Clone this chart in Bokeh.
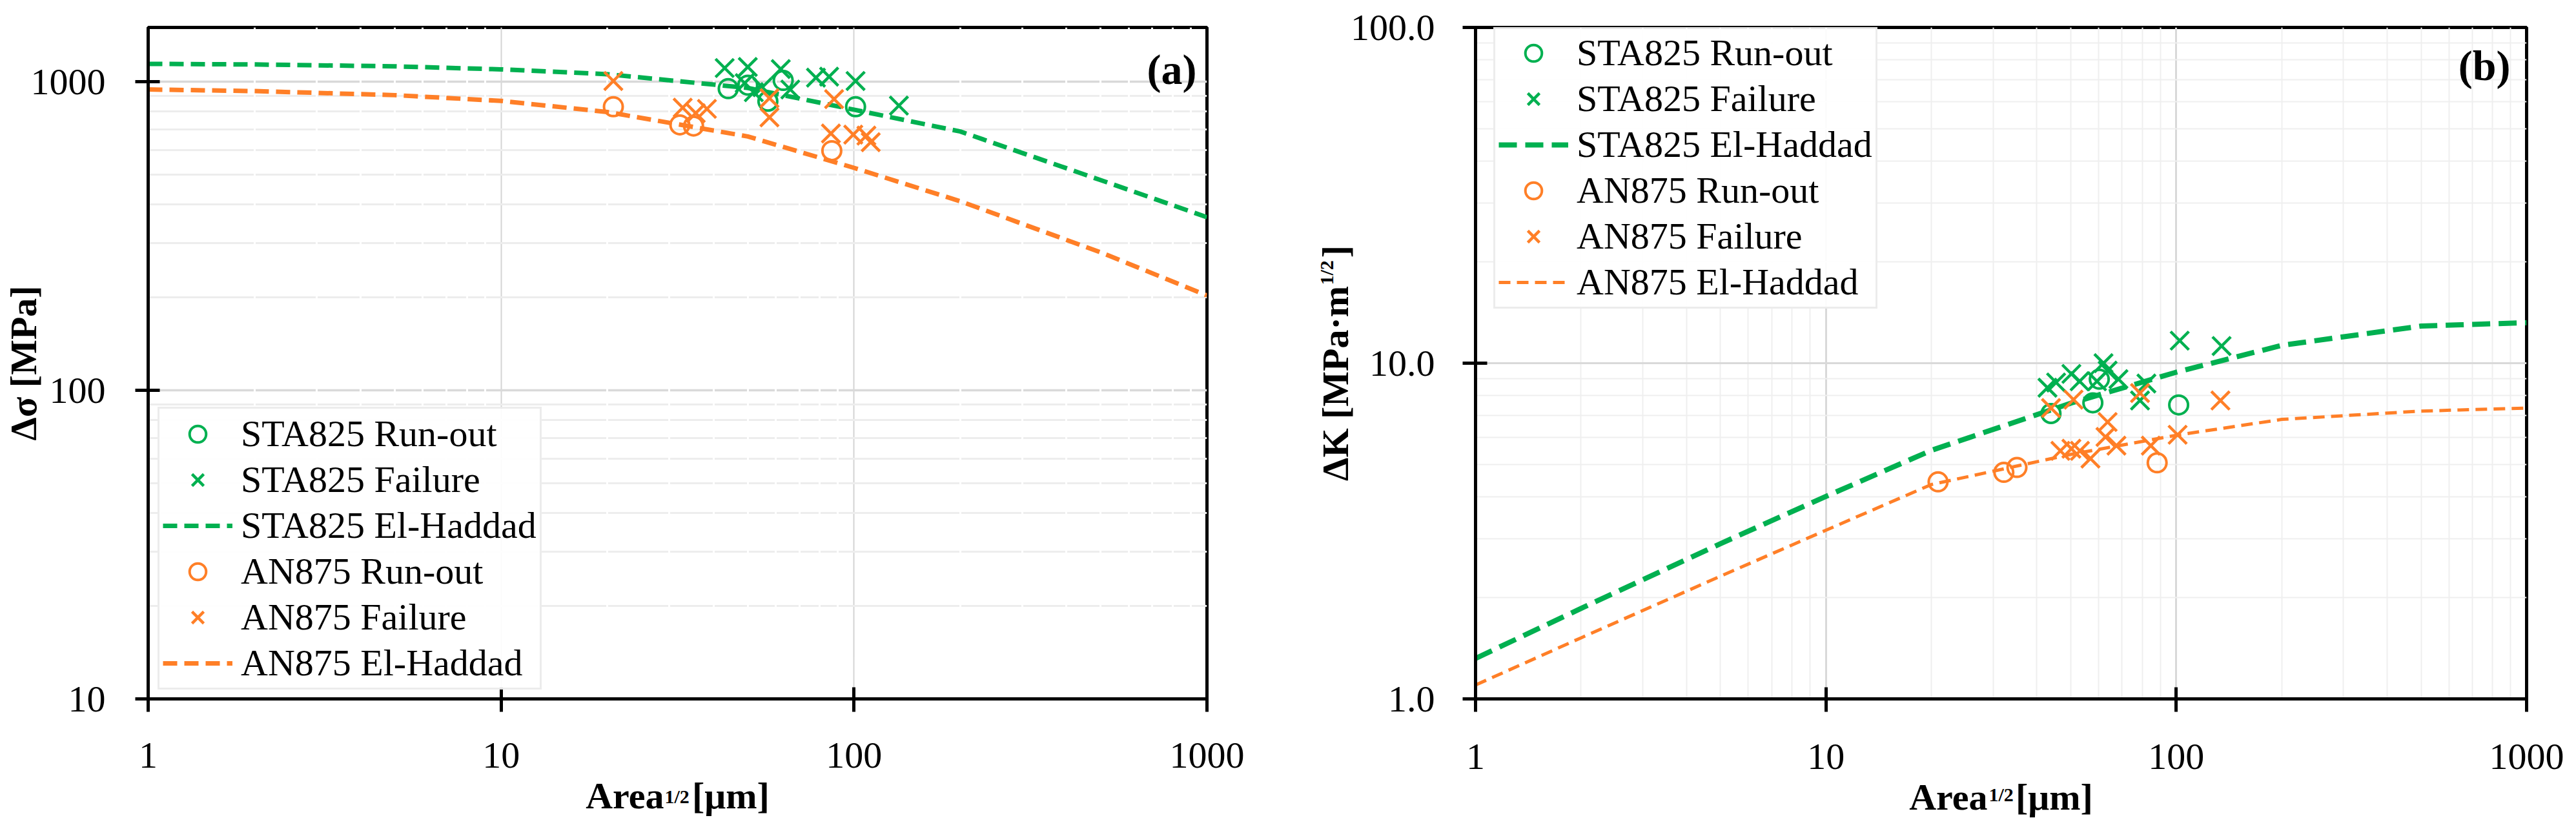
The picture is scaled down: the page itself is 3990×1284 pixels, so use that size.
from math import pi
from bokeh.plotting import figure
from bokeh.models import FixedTicker, Legend, LegendItem, Label, Grid
from bokeh.layouts import row
from bokeh.embed import file_html
from bokeh.resources import INLINE

FONT = "Liberation Serif"
GREEN = "#00B050"
ORANGE = "#FF7F27"
NB = "\u00a0"

# ---------------- data: panel (a) stress range ----------------
a_sta_run_x = [44, 50, 57, 63, 101]
a_sta_run_y = [950, 975, 865, 1010, 830]
a_sta_fail_x = [43, 50, 62, 49, 55, 52, 66, 78, 85, 101, 134]
a_sta_fail_y = [1108, 1117, 1099, 990, 960, 925, 944, 1031, 1039, 1006, 837]
a_an_run_x = [20.8, 32.1, 35.1, 86.5]
a_an_run_y = [830, 725, 719, 598]
a_an_fail_x = [20.8, 32.7, 35.6, 38.3, 57.6, 57.6, 87.8, 86, 99.5, 108.4, 111.5]
a_an_fail_y = [1006, 824, 791, 817, 885, 767, 879, 680, 674, 669, 637]

eh_x = [1, 2, 5, 10, 20, 50, 100, 200, 500, 1000]
a_sta_eh_y = [1143, 1138, 1122, 1097, 1058, 955, 812, 690, 480, 364]
a_an_eh_y = [944, 933, 905, 867, 798, 665, 526, 410, 280, 203]

# ---------------- data: panel (b) SIF range ----------------
b_sta_run_x = [43.9, 57.8, 60.3, 101.6]
b_sta_run_y = [7.08, 7.62, 8.96, 7.51]
b_sta_fail_x = [42.9, 45.4, 50.2, 53.0, 59.4, 62.0, 63.7, 68.4, 78.8, 82.2, 102.3, 134.7]
b_sta_fail_y = [8.45, 8.76, 9.29, 8.83, 8.83, 10.0, 9.5, 8.96, 7.74, 8.70, 11.67, 11.25]
b_an_run_x = [20.9, 32.2, 35.1, 88.2]
b_an_run_y = [4.43, 4.73, 4.89, 5.05]
b_an_fail_x = [43.9, 50.9, 78.8, 133.7, 46.7, 50.2, 53.1, 56.9, 62.8, 63.7, 67.5, 84.6, 100.9]
b_an_fail_y = [7.35, 7.79, 8.15, 7.74, 5.48, 5.56, 5.48, 5.20, 6.03, 6.68, 5.68, 5.68, 6.12]

b_sta_eh_y = [1.32, 1.86, 2.9, 4.01, 5.5, 7.6, 9.4, 11.3, 12.9, 13.2]
b_an_eh_y = [1.10, 1.52, 2.32, 3.18, 4.35, 5.35, 6.1, 6.8, 7.2, 7.35]

x_ticks = [1, 10, 100, 1000]
x_tick_labels = {1: "1", 10: "10", 100: "100", 1000: "1000"}
x_minor = [m * d for d in (1, 10, 100) for m in range(2, 10)]
a_y_ticks = [10, 100, 1000]
a_y_tick_labels = {10: "10", 100: "100", 1000: "1000"}
a_y_minor = [m * d for d in (10, 100) for m in range(2, 10)]
b_y_ticks = [1, 10, 100]
b_y_tick_labels = {1: "1.0", 10: "10.0", 100: "100.0"}
b_y_minor = [m * d for d in (1, 10) for m in range(2, 10)]

labels = ["STA825 Run-out", "STA825 Failure", "STA825 El-Haddad",
          "AN875 Run-out", "AN875 Failure", "AN875 El-Haddad"]


def style_axes(p, xstand, ystand, xlabstand, ylabstand):
    for ax in (p.xaxis[0], p.yaxis[0]):
        ax.axis_line_color = "black"
        ax.axis_line_width = 5
        ax.major_tick_line_color = "black"
        ax.major_tick_line_width = 5
        ax.major_tick_in = 18
        ax.major_tick_out = 20
        ax.minor_tick_line_color = None
        ax.major_label_text_font = FONT
        ax.major_label_text_font_size = "58px"
        ax.major_label_text_color = "black"
        ax.axis_label_text_font = FONT
        ax.axis_label_text_font_size = "58px"
        ax.axis_label_text_font_style = "bold"
        ax.axis_label_text_color = "black"
    p.xaxis[0].major_label_standoff = xstand
    p.yaxis[0].major_label_standoff = ystand
    p.xaxis[0].axis_label_standoff = xlabstand
    p.yaxis[0].axis_label_standoff = ylabstand
    p.outline_line_color = "black"
    p.outline_line_width = 5
    p.outline_line_alpha = 1


def add_series(p, xs_list, ys_list, eh_sta, eh_an, lw_sta, lw_an, dash_sta, dash_an):
    (sr_x, sf_x, ar_x, af_x) = xs_list
    (sr_y, sf_y, ar_y, af_y) = ys_list
    r1 = p.scatter(sr_x, sr_y, marker="circle", size=29, fill_color=None,
                   line_color=GREEN, line_width=4)
    r2 = p.scatter(sf_x, sf_y, marker="x", size=40, line_color=GREEN, line_width=4.5)
    r3 = p.line(eh_x, eh_sta, line_color=GREEN, line_width=lw_sta, line_dash=dash_sta)
    r4 = p.scatter(ar_x, ar_y, marker="circle", size=29, fill_color=None,
                   line_color=ORANGE, line_width=4)
    r5 = p.scatter(af_x, af_y, marker="x", size=40, line_color=ORANGE, line_width=4.5)
    r6 = p.line(eh_x, eh_an, line_color=ORANGE, line_width=lw_an, line_dash=dash_an)
    return [r1, r2, r3, r4, r5, r6]


def make_legend(rs, loc):
    return Legend(items=[LegendItem(label=l, renderers=[r]) for l, r in zip(labels, rs)],
                  location=loc, margin=0, padding=5, spacing=4,
                  glyph_width=108, glyph_height=64, label_height=64, label_standoff=13,
                  label_text_font=FONT, label_text_font_size="58px",
                  label_text_color="black",
                  border_line_color="#D9D9D9", border_line_width=3,
                  background_fill_color="white", background_fill_alpha=0.9)


def lab(x, y, text, size="58px", bold=True, align="left", baseline="alphabetic", angle=0):
    return Label(x=x, y=y, x_units="screen", y_units="screen", text=text,
                 text_font=FONT, text_font_size=size,
                 text_font_style="bold" if bold else "normal",
                 text_align=align, text_baseline=baseline, angle=angle,
                 text_color="black")


# ---------------- panel (a) ----------------
p1 = figure(width=2008, height=1284, x_axis_type="log", y_axis_type="log",
            x_range=(1, 1000), y_range=(10, 1500),
            output_backend="svg", toolbar_location=None,
            min_border_left=227, min_border_right=139, min_border_top=39, min_border_bottom=202)
p1.xaxis.ticker = FixedTicker(ticks=x_ticks, minor_ticks=x_minor)
p1.yaxis.ticker = FixedTicker(ticks=a_y_ticks, minor_ticks=a_y_minor)
p1.xaxis.major_label_overrides = x_tick_labels
p1.yaxis.major_label_overrides = a_y_tick_labels
p1.xaxis.axis_label = "Area" + NB * 3 + "[μm]"
p1.yaxis.axis_label = "Δσ [MPa]"
style_axes(p1, 48, 46, 8, -24)
p1.xgrid.grid_line_color = "#D4D4D4"
p1.xgrid.grid_line_width = 2
p1.ygrid.grid_line_color = "#D9D9D9"
p1.ygrid.grid_line_width = 3.5
p1.ygrid.minor_grid_line_color = "#EDEDED"
p1.ygrid.minor_grid_line_width = 3
p1.add_layout(Grid(dimension=0, ticker=FixedTicker(ticks=[], minor_ticks=x_minor),
                   grid_line_color=None, minor_grid_line_color="white",
                   minor_grid_line_width=3), "center")

rs1 = add_series(p1, (a_sta_run_x, a_sta_fail_x, a_an_run_x, a_an_fail_x),
                 (a_sta_run_y, a_sta_fail_y, a_an_run_y, a_an_fail_y),
                 a_sta_eh_y, a_an_eh_y, 7, 7, "22 11", "22 11")
p1.add_layout(make_legend(rs1, (15, 14)))
p1.add_layout(lab(1642 - 18, 1043 - 68, "(a)", size="66px", align="right", baseline="middle"))
# superscript of the x-axis title, placed in the right side panel (not clipped)
p1.add_layout(lab(-840, -151, "1/2", size="30px"), "right")

# ---------------- panel (b) ----------------
p2 = figure(width=1982, height=1284, x_axis_type="log", y_axis_type="log",
            x_range=(1, 1000), y_range=(1, 100),
            output_backend="svg", toolbar_location=None,
            min_border_left=277, min_border_right=77, min_border_top=42, min_border_bottom=195)
p2.xaxis.ticker = FixedTicker(ticks=x_ticks, minor_ticks=x_minor)
p2.yaxis.ticker = FixedTicker(ticks=b_y_ticks, minor_ticks=b_y_minor)
p2.xaxis.major_label_overrides = x_tick_labels
p2.yaxis.major_label_overrides = b_y_tick_labels
p2.xaxis.axis_label = "Area" + NB * 3 + "[μm]"
p2.yaxis.axis_label = "ΔK [MPa·m" + NB * 3 + "]"
style_axes(p2, 50, 43, 8, -12)
for g in (p2.xgrid[0], p2.ygrid[0]):
    g.grid_line_color = "#D9D9D9"
    g.grid_line_width = 3
    g.minor_grid_line_color = "#EFEFEF"
    g.minor_grid_line_width = 2

rs2 = add_series(p2, (b_sta_run_x, b_sta_fail_x, b_an_run_x, b_an_fail_x),
                 (b_sta_run_y, b_sta_fail_y, b_an_run_y, b_an_fail_y),
                 b_sta_eh_y, b_an_eh_y, 8, 5, "28 13", "18 10")
p2.add_layout(make_legend(rs2, (28, 604)))
p2.add_layout(lab(1628 - 25, 1047 - 66, "(b)", size="66px", align="right", baseline="middle"))
# superscripts of both axis titles, in the right side panels
p2.add_layout(lab(-1859, 641, "1/2", size="30px", angle=pi / 2), "right")
p2.add_layout(lab(-866, -148, "1/2", size="30px"), "right")

layout = row(p1, p2)
open("out.html", "w").write(file_html(layout, INLINE))
